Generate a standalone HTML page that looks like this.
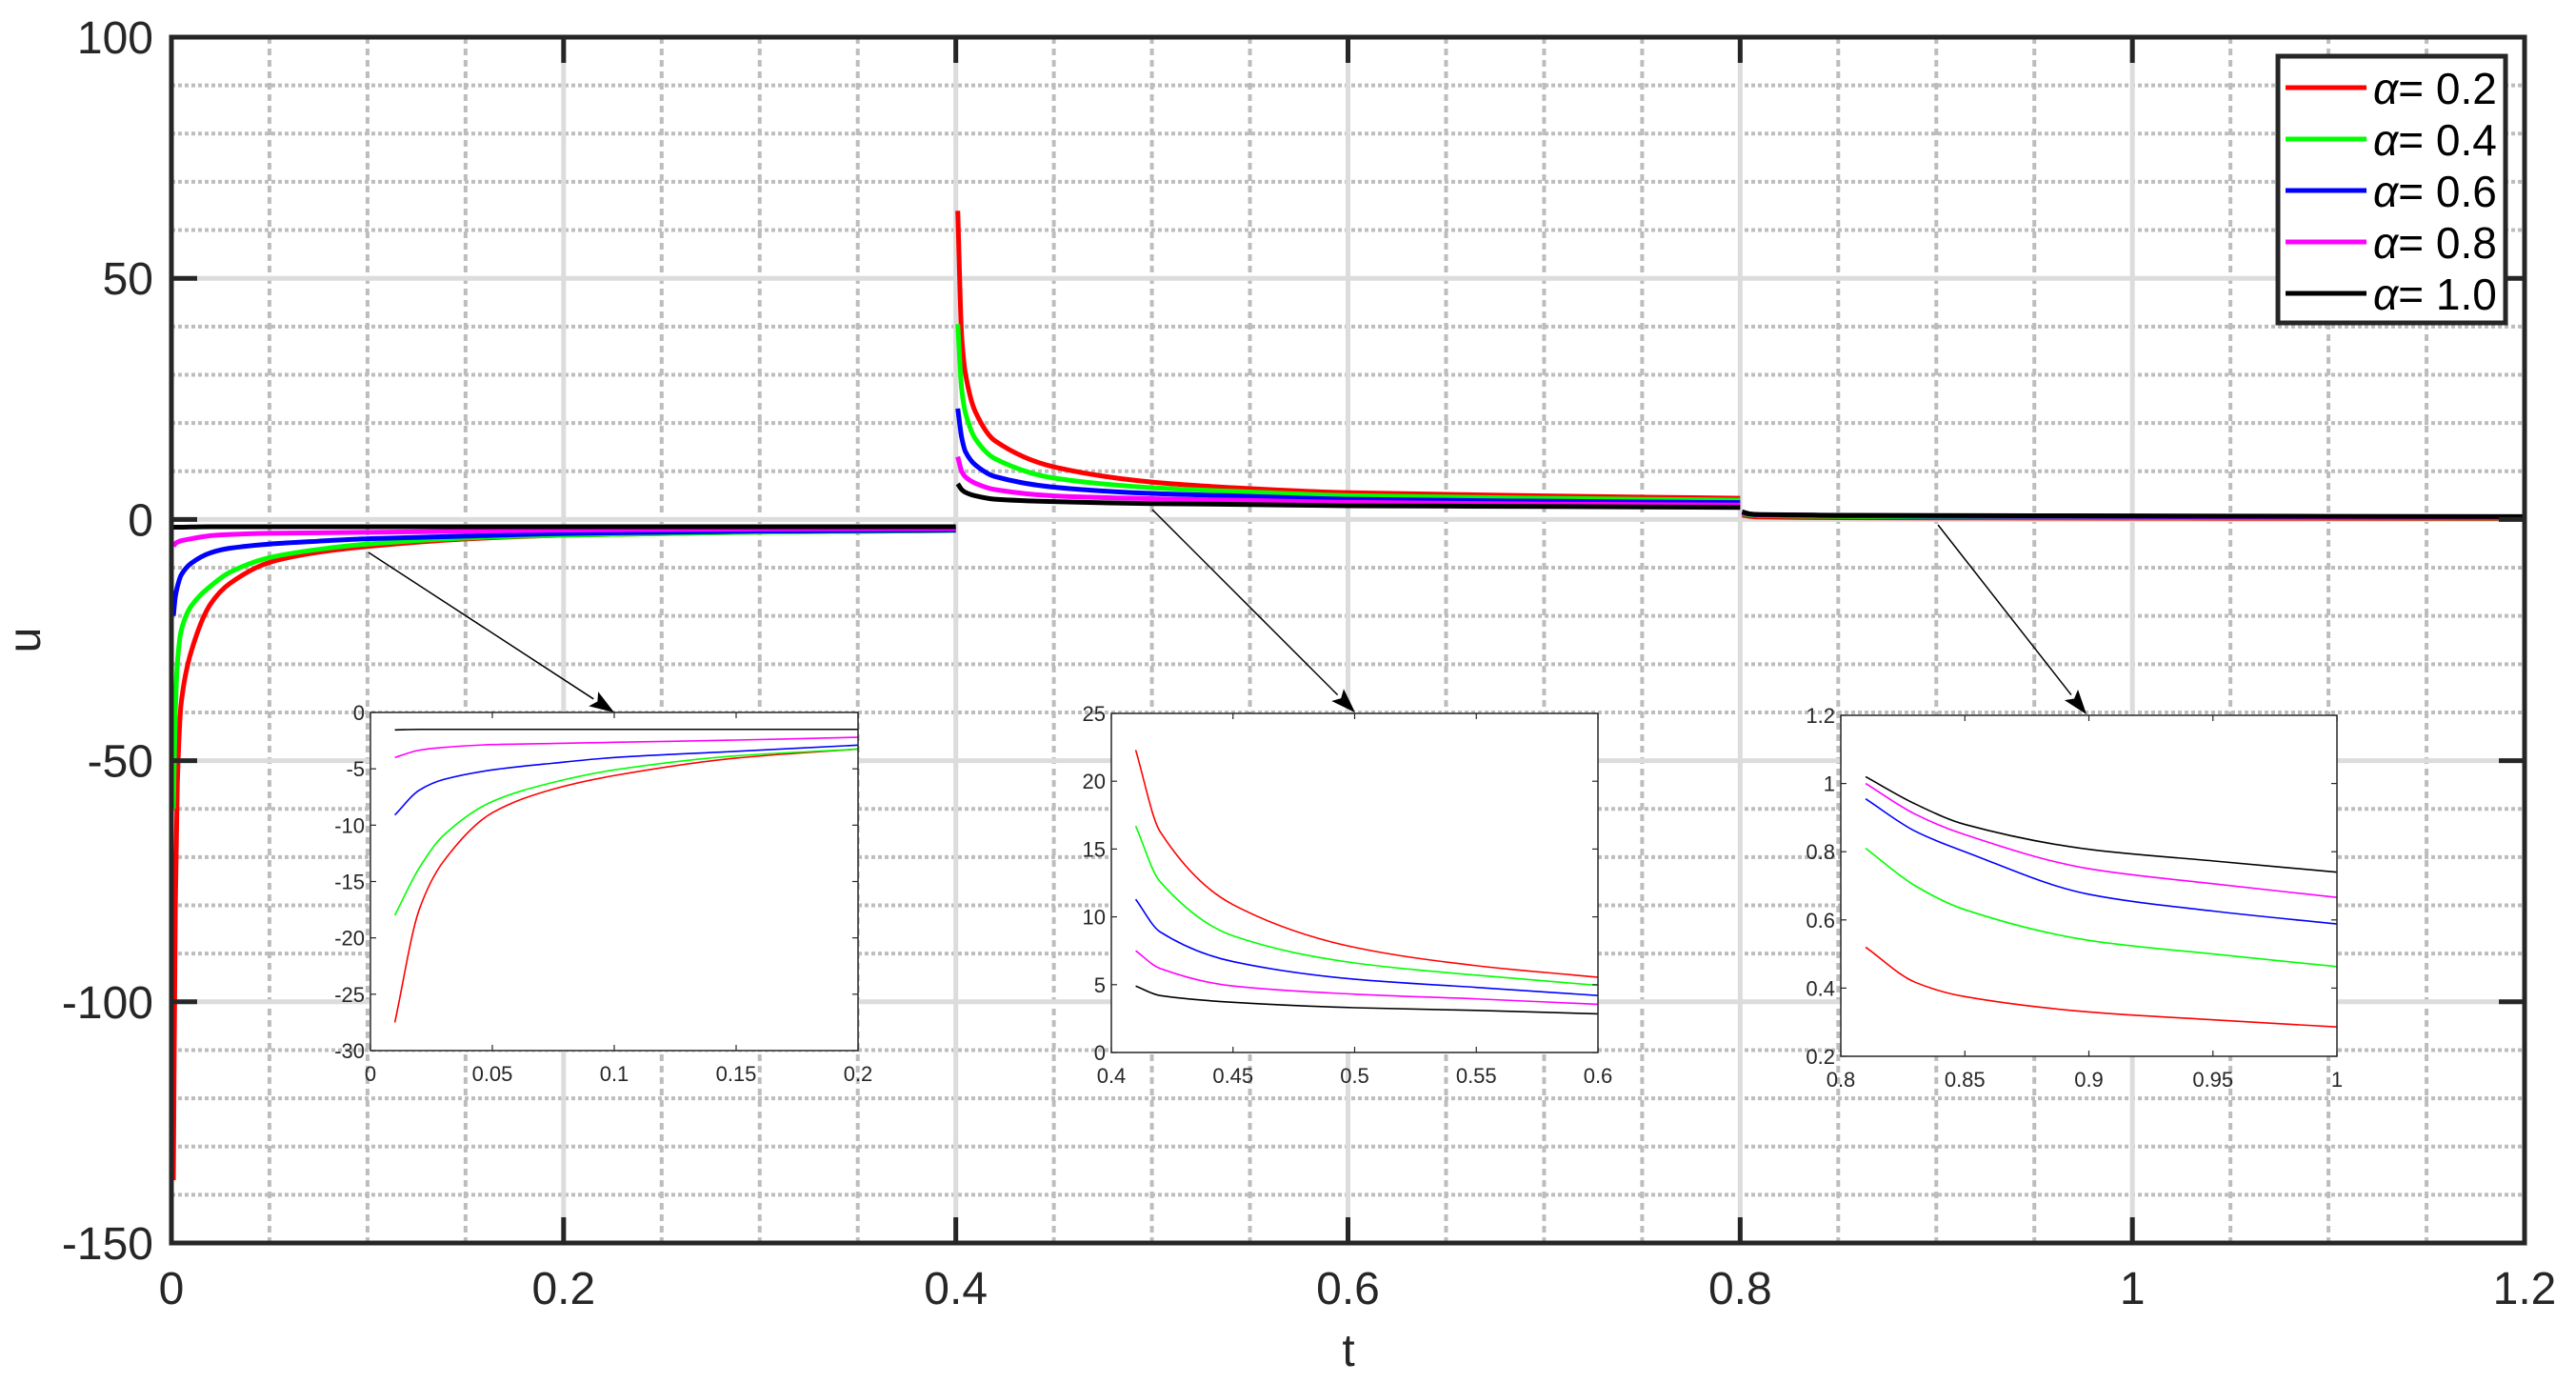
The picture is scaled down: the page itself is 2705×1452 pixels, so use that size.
<!DOCTYPE html>
<html><head><meta charset="utf-8"><style>
html,body{margin:0;padding:0;background:#fff;}
svg{display:block;}
text{font-family:"Liberation Sans",sans-serif;fill:#262626;}
</style></head><body>
<svg id="chart" width="2705" height="1452" viewBox="0 0 2705 1452" xmlns="http://www.w3.org/2000/svg"></svg>
<script>
// ---- data ----
const alphaLabels = ["0.2","0.4","0.6","0.8","1.0"];
const seriesColors = ["#ff0000","#00ff00","#0000ff","#ff00ff","#000000"];
const xTicks = [0,0.2,0.4,0.6,0.8,1,1.2];
const xTickLabels = ["0","0.2","0.4","0.6","0.8","1","1.2"];
const yTicks = [-150,-100,-50,0,50,100];
const yTickLabels = ["-150","-100","-50","0","50","100"];
// segment 1 (0 < t <= 0.4)
const t1 = [0.001,0.002,0.003,0.005,0.01,0.02,0.03,0.05,0.075,0.1,0.15,0.2,0.3,0.4];
const seg1Red = [-137,-80,-55,-38,-27.5,-17.5,-13.2,-8.9,-6.8,-5.6,-4.05,-3.25,-2.6,-2.3];
const seg1Green = [-60,-40,-30,-23,-18,-13.8,-10.9,-7.9,-6.2,-5.1,-3.85,-3.25,-2.6,-2.3];
const seg1Blue = [-20,-16,-14,-11.5,-9.1,-6.9,-5.95,-5.1,-4.5,-4.0,-3.45,-2.9,-2.4,-2.2];
const seg1Magenta = [-5.5,-5,-4.7,-4.4,-4.0,-3.35,-3.1,-2.85,-2.75,-2.65,-2.45,-2.2,-1.95,-1.9];
const seg1Black = [-1.6,-1.6,-1.6,-1.6,-1.55,-1.5,-1.5,-1.5,-1.5,-1.5,-1.5,-1.5,-1.5,-1.5];
// segment 2 (0.4 < t <= 0.8)
const t2 = [0.401,0.403,0.405,0.41,0.42,0.45,0.5,0.55,0.6,0.7,0.8];
const seg2Red = [64,38,30,22.3,16.3,10.9,7.75,6.4,5.55,4.9,4.4];
const seg2Green = [40.5,27,22,16.7,12.6,8.6,6.6,5.7,4.95,4.4,4.0];
const seg2Blue = [23,17,14,11.3,8.9,6.7,5.4,4.8,4.2,3.8,3.5];
const seg2Magenta = [13,10,8.8,7.5,6.2,4.9,4.3,3.95,3.55,3.2,3.0];
const seg2Black = [7.4,6.2,5.6,4.9,4.2,3.7,3.3,3.1,2.85,2.7,2.5];
// segment 3 (0.8 < t <= 1.2)
const t3 = [0.801,0.805,0.81,0.83,0.85,0.9,0.95,1.0,1.1,1.2];
const seg3Red = [0.9,0.65,0.52,0.417,0.375,0.33,0.307,0.286,0.24,0.2];
const seg3Green = [1.2,0.95,0.81,0.70,0.63,0.54,0.50,0.463,0.38,0.33];
const seg3Blue = [1.4,1.08,0.955,0.86,0.80,0.675,0.626,0.588,0.5,0.44];
const seg3Magenta = [1.5,1.12,1.0,0.91,0.85,0.75,0.706,0.666,0.58,0.52];
const seg3Black = [1.6,1.15,1.02,0.94,0.88,0.807,0.773,0.74,0.65,0.6];
const segT = [t1,t2,t3];
const segData = [
  [seg1Red,seg1Green,seg1Blue,seg1Magenta,seg1Black],
  [seg2Red,seg2Green,seg2Blue,seg2Magenta,seg2Black],
  [seg3Red,seg3Green,seg3Blue,seg3Magenta,seg3Black]
];
const inset1XTicks=[0,0.05,0.1,0.15,0.2], inset1XLabels=["0","0.05","0.1","0.15","0.2"];
const inset1YTicks=[-30,-25,-20,-15,-10,-5,0], inset1YLabels=["-30","-25","-20","-15","-10","-5","0"];
const inset2XTicks=[0.4,0.45,0.5,0.55,0.6], inset2XLabels=["0.4","0.45","0.5","0.55","0.6"];
const inset2YTicks=[0,5,10,15,20,25], inset2YLabels=["0","5","10","15","20","25"];
const inset3XTicks=[0.8,0.85,0.9,0.95,1], inset3XLabels=["0.8","0.85","0.9","0.95","1"];
const inset3YTicks=[0.2,0.4,0.6,0.8,1,1.2], inset3YLabels=["0.2","0.4","0.6","0.8","1","1.2"];

// ---- layout ----
const NS="http://www.w3.org/2000/svg";
const svg=document.getElementById('chart');
const L=180,R=2651,T=39,B=1305;
const xMin=0,xMax=1.2,yMin=-150,yMax=100;
const X=v=>L+(v-xMin)/(xMax-xMin)*(R-L);
const Y=v=>B-(v-yMin)/(yMax-yMin)*(B-T);
function mk(tag,attrs,parent){const e=document.createElementNS(NS,tag);for(const k in attrs)e.setAttribute(k,attrs[k]);(parent||svg).appendChild(e);return e;}

// monotone cubic path through data points mapped to pixels
function pathFrom(ts,vs,xf,yf,filt){
  const P=[];ts.forEach((t,i)=>{if(filt&&!filt(t))return;P.push([xf(t),yf(vs[i])]);});
  const n=P.length;if(n<2)return '';
  const d=[],m=[];
  for(let i=0;i<n-1;i++)d.push((P[i+1][1]-P[i][1])/(P[i+1][0]-P[i][0]));
  m[0]=d[0];m[n-1]=d[n-2];
  for(let i=1;i<n-1;i++){m[i]=(d[i-1]*d[i]<=0)?0:2/(1/d[i-1]+1/d[i]);}
  let s='M'+P[0][0].toFixed(2)+','+P[0][1].toFixed(2);
  for(let i=0;i<n-1;i++){
    const h=(P[i+1][0]-P[i][0])/3;
    s+='C'+(P[i][0]+h).toFixed(2)+','+(P[i][1]+m[i]*h).toFixed(2)+' '+(P[i+1][0]-h).toFixed(2)+','+(P[i+1][1]-m[i+1]*h).toFixed(2)+' '+P[i+1][0].toFixed(2)+','+P[i+1][1].toFixed(2);
  }
  return s;
}

// grid
const grid=mk('g',{});


for(let i=1;i<24;i++){const v=i*0.05;if(i%4===0)continue;
  mk('line',{x1:X(v),x2:X(v),y1:T,y2:B,stroke:'#bdbdbd','stroke-width':4,'stroke-dasharray':'7,5'},grid);}
for(let v=-140;v<100;v+=10){if(v%50===0)continue;
  mk('line',{x1:L,x2:R,y1:Y(v),y2:Y(v),stroke:'#bdbdbd','stroke-width':4,'stroke-dasharray':'4,3'},grid);}
xTicks.forEach(v=>{if(v>0&&v<1.2)mk('line',{x1:X(v),x2:X(v),y1:T,y2:B,stroke:'#dcdcdc','stroke-width':5},grid);});
yTicks.forEach(v=>{if(v>-150&&v<100)mk('line',{x1:L,x2:R,y1:Y(v),y2:Y(v),stroke:'#dcdcdc','stroke-width':5},grid);});

// series
const series=mk('g',{});


for(let s=0;s<5;s++){
  for(let g=0;g<3;g++){
    const p=mk('path',{d:pathFrom(segT[g],segData[g][s],X,Y),fill:'none',stroke:seriesColors[s],'stroke-width':5,'stroke-linejoin':'round'},series);
    
    
  }
}

// axes frame & ticks
const axes=mk('g',{});


mk('rect',{x:L,y:T,width:R-L,height:B-T,fill:'none',stroke:'#262626','stroke-width':5},axes);
xTicks.forEach((v,i)=>{
  mk('line',{x1:X(v),x2:X(v),y1:B,y2:B-27,stroke:'#262626','stroke-width':5},axes);
  mk('line',{x1:X(v),x2:X(v),y1:T,y2:T+27,stroke:'#262626','stroke-width':5},axes);
  const t=mk('text',{x:X(v),y:1369,'text-anchor':'middle','font-size':48},axes);t.textContent=xTickLabels[i];
  
  
});
yTicks.forEach((v,i)=>{
  mk('line',{x1:L,x2:L+27,y1:Y(v),y2:Y(v),stroke:'#262626','stroke-width':5},axes);
  mk('line',{x1:R,x2:R-27,y1:Y(v),y2:Y(v),stroke:'#262626','stroke-width':5},axes);
  const t=mk('text',{x:161,y:Y(v)+17,'text-anchor':'end','font-size':48},axes);t.textContent=yTickLabels[i];
  
  
});
const xt=mk('text',{x:1416,y:1434,'text-anchor':'middle','font-size':48});xt.textContent='t';


const yt=mk('text',{x:0,y:0,'text-anchor':'middle','font-size':48,transform:'translate(42,672) rotate(-90)'});yt.textContent='u';



// arrows
function arrow(x1,y1,x2,y2,name){
  const g=mk('g',{});
  
  
  const a=Math.atan2(y2-y1,x2-x1),len=26,w=9;
  const bx=x2-len*Math.cos(a),by=y2-len*Math.sin(a);
  mk('line',{x1,y1,x2:bx,y2:by,stroke:'#000','stroke-width':1.5},g);
  const px=-Math.sin(a)*w,py=Math.cos(a)*w;
  mk('polygon',{points:`${x2},${y2} ${bx+px},${by+py} ${bx+5*Math.cos(a)},${by+5*Math.sin(a)} ${bx-px},${by-py}`,fill:'#000'},g);
}
arrow(387,580,645,748,'zoom-arrow-1');
arrow(1210,535,1423,748,'zoom-arrow-2');
arrow(2035,551,2191,750,'zoom-arrow-3');

// insets
function inset(name,x0,y0,x1,y1,xr,yr,xt,xl,yt,yl,gi,tStart){
  const g=mk('g',{});
  
  
  const ix=v=>x0+(v-xr[0])/(xr[1]-xr[0])*(x1-x0);
  const iy=v=>y1-(v-yr[0])/(yr[1]-yr[0])*(y1-y0);
  mk('rect',{x:x0,y:y0,width:x1-x0,height:y1-y0,fill:'#fff',stroke:'none'},g);
  for(let s=0;s<5;s++){
    const p=mk('path',{d:pathFrom(segT[gi],segData[gi][s],ix,iy,t=>t>=tStart-1e-9&&t<=xr[1]+1e-9),fill:'none',stroke:seriesColors[s],'stroke-width':1.6},g);
    
    
  }
  mk('rect',{x:x0,y:y0,width:x1-x0,height:y1-y0,fill:'none',stroke:'#262626','stroke-width':1.5},g);
  xt.forEach((v,i)=>{
    mk('line',{x1:ix(v),x2:ix(v),y1:y1,y2:y1-6,stroke:'#262626','stroke-width':1.2},g);
    mk('line',{x1:ix(v),x2:ix(v),y1:y0,y2:y0+6,stroke:'#262626','stroke-width':1.2},g);
    const t=mk('text',{x:ix(v),y:y1+32,'text-anchor':'middle','font-size':22},g);t.textContent=xl[i];
    
    
  });
  yt.forEach((v,i)=>{
    mk('line',{x1:x0,x2:x0+6,y1:iy(v),y2:iy(v),stroke:'#262626','stroke-width':1.2},g);
    mk('line',{x1:x1,x2:x1-6,y1:iy(v),y2:iy(v),stroke:'#262626','stroke-width':1.2},g);
    const t=mk('text',{x:x0-6,y:iy(v)+8,'text-anchor':'end','font-size':22},g);t.textContent=yl[i];
    
    
  });
}
inset('inset-1',389,748,901,1103,[0,0.2],[-30,0],inset1XTicks,inset1XLabels,inset1YTicks,inset1YLabels,0,0.01);
inset('inset-2',1167,749,1678,1105,[0.4,0.6],[0,25],inset2XTicks,inset2XLabels,inset2YTicks,inset2YLabels,1,0.41);
inset('inset-3',1933,751,2454,1109,[0.8,1],[0.2,1.2],inset3XTicks,inset3XLabels,inset3YTicks,inset3YLabels,2,0.81);

// legend
const lg=mk('g',{});


mk('rect',{x:2392,y:59,width:239,height:280,fill:'#fff',stroke:'#262626','stroke-width':5},lg);
alphaLabels.forEach((a,i)=>{
  const by=109+i*54;
  const e=mk('g',{},lg);
  
  
  mk('line',{x1:2400,x2:2485,y1:by-17,y2:by-17,stroke:seriesColors[i],'stroke-width':5},e);
  const t=mk('text',{x:2492,y:by,'font-size':46},e);
  t.innerHTML='<tspan font-style="italic" fill="#000">α</tspan><tspan fill="#000">= '+a+'</tspan>';
});
</script>
</body></html>
